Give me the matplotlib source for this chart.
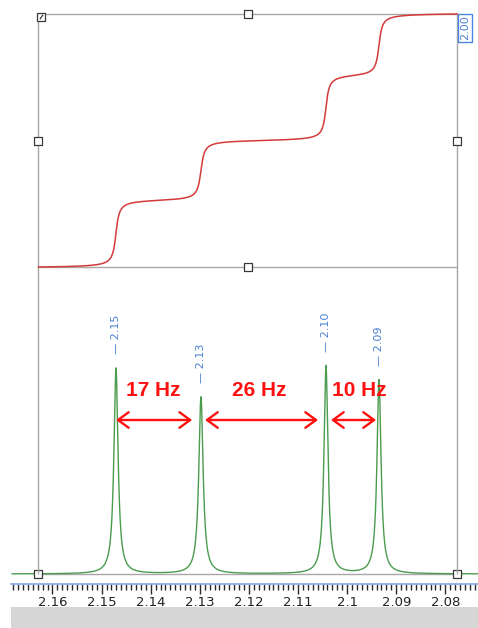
import numpy as np
import matplotlib
matplotlib.use("Agg")
import matplotlib.pyplot as plt
from matplotlib.ticker import MultipleLocator, FuncFormatter

# peaks (ppm), relative heights, half widths (ppm)
peak_ppm = [2.14707, 2.12976, 2.10430, 2.09350]
peak_height = [1.00, 0.859, 1.01, 0.942]
peak_hw = [0.00051, 0.00053, 0.00049, 0.00050]
peak_labels = ["2.15", "2.13", "2.10", "2.09"]

# coupling arrows: start ppm, end ppm, label ppm, text
arrow_from = [2.14707, 2.12894, 2.10328]
arrow_to = [2.13155, 2.10591, 2.09410]
hz_x = [2.13953, 2.11794, 2.09758]
hz_text = ["17 Hz", "26 Hz", "10 Hz"]

integral_value = 2.00
region = (2.16286, 2.07755)   # integration region
spec_start = 2.1682
xlim = (2.17069, 2.07334)

W, H = 478, 628
fig = plt.figure(figsize=(W / 100, H / 100), dpi=100)

# main area: from top of figure down to ruler line (584 px)
axh = 584
ax = fig.add_axes([0, (H - axh) / H, 1, axh / H])
ax2 = ax.twinx()
for a in (ax, ax2):
    a.set_axis_off()
ax.set_xlim(*xlim)

# y scales (pixels)
base_px, ppu = 10, 206.0
ax.set_ylim(-base_px / ppu, (axh - base_px) / ppu)
int0_px, ipu = 317, 253 / integral_value
ax2.set_ylim(-int0_px / ipu, (axh - int0_px) / ipu)

# spectrum
x = np.linspace(spec_start, xlim[1], 6000)
y = np.zeros_like(x)
for p, h, w in zip(peak_ppm, peak_height, peak_hw):
    y += h * w**2 / ((x - p) ** 2 + w**2)

# frame
xl, xr = region
xm = (xl + xr) / 2
fcol = "#a8a8a8"
ax2.hlines([0, integral_value], xl, xr, color=fcol, lw=1, zorder=1)
ax.hlines(0, xl, xr, color=fcol, lw=1, zorder=1)
yb = ax2.get_ylim()[0] + base_px / ipu
ax2.vlines([xl, xr], yb, integral_value, color=fcol, lw=1, zorder=1)

ax.plot(x, y, color="#4a9c4e", lw=1.0, zorder=3)

# integral
xi = np.linspace(xl, xr, 6000)
yi = np.zeros_like(xi)
for p, h, w in zip(peak_ppm, peak_height, peak_hw):
    yi += h * w**2 / ((xi - p) ** 2 + w**2)
cum = np.cumsum(yi)
cum = (cum - cum[0]) / (cum[-1] - cum[0]) * integral_value
ax2.plot(xi, cum, color="#d43a3a", lw=1.1, zorder=3)

ax2.annotate(f"{integral_value:.2f}", xy=(xr, integral_value), xytext=(2, -1),
             textcoords="offset points", rotation=90, ha="left", va="top",
             fontsize=8, color="#4a7fd4", family="DejaVu Sans",
             bbox=dict(boxstyle="square,pad=0.15", fc="white", ec="#4a88e0", lw=1),
             zorder=5)

# handles
hs = dict(marker="s", s=26, facecolor="white", edgecolor="#3a3a3a", linewidths=0.9, zorder=6)
ax2.scatter([xl, xr, xm, xm], [integral_value / 2, integral_value / 2, 0, integral_value], **hs)
ax.scatter([xl, xr], [0, 0], **hs)
dx, dy = 3 / 4910, 3 / ipu
ax2.scatter([xl - dx], [integral_value - dy], **hs)
ax2.plot([xl - dx * 0.6, xl - dx * 1.4], [integral_value - dy * 1.6, integral_value - dy * 0.4],
         color="#3a3a3a", lw=0.9, zorder=7)

# peak labels
for p, h, lab in zip(peak_ppm, peak_height, peak_labels):
    ax.annotate("\u2014 " + lab, xy=(p, h), xytext=(0, 10), textcoords="offset points",
                rotation=90, ha="center", va="bottom", fontsize=8, color="#4a7fd4")

# coupling arrows
arr_y = (574 - 420) / ppu
txt_y = (574 - 390) / ppu
for a, b, tx, t in zip(arrow_from, arrow_to, hz_x, hz_text):
    ax.annotate("", xy=(b, arr_y), xytext=(a, arr_y),
                arrowprops=dict(arrowstyle="<->,head_length=0.55,head_width=0.4",
                                color="#ff1010", lw=1.7, shrinkA=0, shrinkB=0,
                                mutation_scale=14), zorder=8)
    ax.text(tx, txt_y, t, ha="center", va="center", fontsize=15, fontweight="bold",
            color="#ff1010", family="Liberation Sans", zorder=8)

# ruler
rx0 = 11
axr = fig.add_axes([rx0 / W, 0, (W - rx0) / W, (H - axh) / H])
px_per_ppm = W / (xlim[0] - xlim[1])
axr.set_xlim(xlim[0] - rx0 / px_per_ppm, xlim[1])
axr.set_ylim(0, 1)
axr.axhspan(0, 21 / 44, color="#d6d6d6", lw=0, zorder=0)
for s in ["left", "right", "bottom"]:
    axr.spines[s].set_visible(False)
axr.spines["top"].set_color("#7fa8e8")
axr.spines["top"].set_linewidth(1.2)
axr.set_yticks([])
axr.xaxis.set_major_locator(MultipleLocator(0.01))
axr.xaxis.set_minor_locator(MultipleLocator(0.001))
axr.xaxis.set_major_formatter(FuncFormatter(lambda v, pos: f"{round(v, 2):g}"))
axr.tick_params(axis="x", which="both", top=True, bottom=False, labeltop=False,
                labelbottom=True, direction="in", color="#2a2a2a", width=1.0)
axr.tick_params(axis="x", which="major", length=7, pad=-23, labelsize=9.5, labelcolor="#202020")
axr.tick_params(axis="x", which="minor", length=4.5)

fig.savefig("out.png", dpi=100)
